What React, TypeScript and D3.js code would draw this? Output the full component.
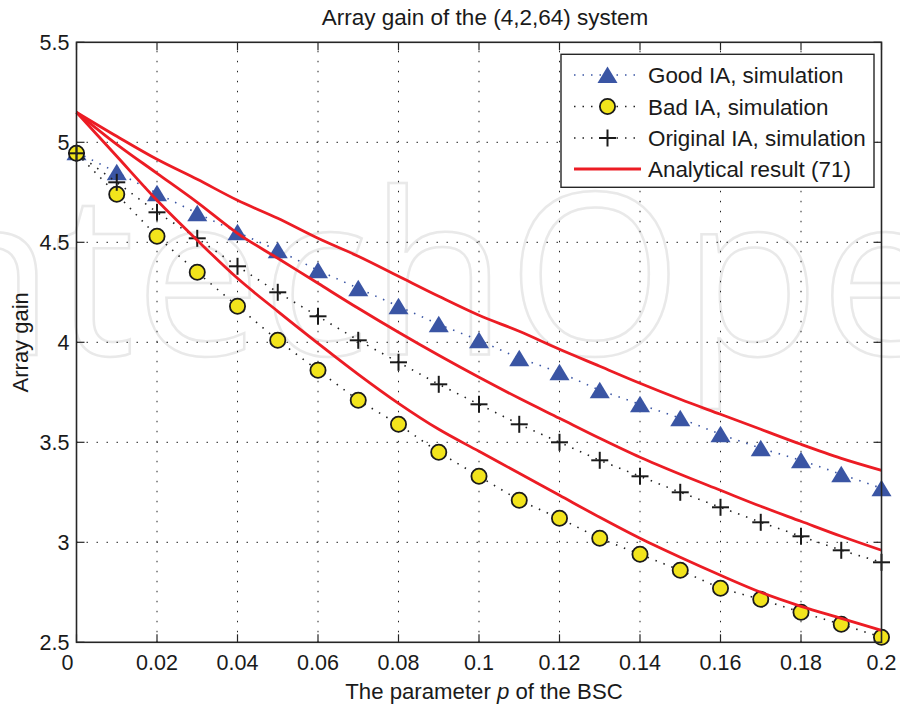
import React from "react";
import * as d3 from "d3";

// BSC crossover probability p
const pValues = [0, 0.01, 0.02, 0.03, 0.04, 0.05, 0.06, 0.07, 0.08, 0.09, 0.1, 0.11, 0.12, 0.13, 0.14, 0.15, 0.16, 0.17, 0.18, 0.19, 0.2];

// Simulated array gain
const goodSim = [4.95, 4.85, 4.745, 4.645, 4.55, 4.46, 4.36, 4.27, 4.18, 4.09, 4.01, 3.92, 3.85, 3.76, 3.69, 3.62, 3.54, 3.47, 3.41, 3.34, 3.27];
const badSim = [4.945, 4.74, 4.53, 4.35, 4.18, 4.01, 3.86, 3.71, 3.59, 3.45, 3.33, 3.21, 3.12, 3.02, 2.94, 2.86, 2.77, 2.715, 2.65, 2.59, 2.525];
const origSim = [4.945, 4.8, 4.65, 4.52, 4.38, 4.25, 4.13, 4.01, 3.9, 3.79, 3.69, 3.59, 3.5, 3.41, 3.33, 3.25, 3.175, 3.1, 3.03, 2.96, 2.9];

// Analytical result (71) for the three IA variants
const goodAna = [5.15, 5.03, 4.915, 4.815, 4.71, 4.62, 4.52, 4.43, 4.33, 4.23, 4.135, 4.055, 3.965, 3.88, 3.795, 3.715, 3.64, 3.565, 3.49, 3.42, 3.36];
const origAna = [5.15, 4.99, 4.845, 4.7, 4.545, 4.42, 4.295, 4.17, 4.05, 3.935, 3.825, 3.72, 3.62, 3.52, 3.425, 3.34, 3.26, 3.18, 3.105, 3.03, 2.96];
const badAna = [5.15, 4.93, 4.71, 4.51, 4.32, 4.155, 3.995, 3.84, 3.695, 3.565, 3.455, 3.345, 3.235, 3.125, 3.02, 2.925, 2.835, 2.75, 2.68, 2.62, 2.56];

const xTicks = [0, 0.02, 0.04, 0.06, 0.08, 0.1, 0.12, 0.14, 0.16, 0.18, 0.2];
const yTicks = [2.5, 3, 3.5, 4, 4.5, 5, 5.5];

const legendLabels = ["Good IA, simulation", "Bad IA, simulation", "Original IA, simulation", "Analytical result (71)"];

const W = 900;
const H = 710;
const left = 76.5;
const right = 881.5;
const top = 42.3;
const bottom = 642.3;

const FONT = "'Liberation Sans', Arial, Helvetica, sans-serif";
const BLUE = "#3a55a4";
const RED = "#ec1c24";
const YELLOW = "#f2e41c";
const AXIS = "#262626";

const x = d3.scaleLinear().domain([0, 0.2]).range([left, right]);
const y = d3.scaleLinear().domain([2.5, 5.5]).range([bottom, top]);

const line = d3
  .line<[number, number]>()
  .x((d) => x(d[0]))
  .y((d) => y(d[1]));

const smoothLine = d3
  .line<[number, number]>()
  .x((d) => x(d[0]))
  .y((d) => y(d[1]))
  .curve(d3.curveMonotoneX);

const pts = (vals: number[]) => pValues.map((p, i) => [p, vals[i]] as [number, number]);

const tri = (cx: number, cy: number) => `M${cx},${cy - 8.5} L${cx + 10},${cy + 8} L${cx - 10},${cy + 8} Z`;

function Plus({ cx, cy }: { cx: number; cy: number }) {
  return (
    <g stroke="#1a1a1a" strokeWidth={2}>
      <line x1={cx - 8.5} x2={cx + 8.5} y1={cy} y2={cy} />
      <line x1={cx} x2={cx} y1={cy - 8.5} y2={cy + 8.5} />
    </g>
  );
}

export default function App() {
  const legendRows = [75, 106.5, 138, 169];
  const lgX0 = 574;
  const lgX1 = 641;
  const lgMid = 607.5;

  return (
    <div style={{ position: "absolute", left: 0, top: 0 }}>
      <svg width={W} height={H} viewBox={`0 0 ${W} ${H}`} style={{ display: "block", background: "#fff" }}>
        {/* publisher watermark */}
        <text
          x={-146}
          y={355}
          fontFamily="'Open Sans', sans-serif"
          fontSize={225}
          fill="none"
          stroke="#e9e9e9"
          strokeWidth={2.5}
        >
          IntechOpen
        </text>

        {/* grid */}
        <g stroke="#222" strokeWidth={1} strokeDasharray="1.5,8.5">
          {xTicks.slice(1, -1).map((t) => (
            <line key={"gx" + t} x1={x(t)} x2={x(t)} y1={bottom} y2={top} />
          ))}
          {yTicks.slice(1, -1).map((t) => (
            <line key={"gy" + t} x1={left} x2={right} y1={y(t)} y2={y(t)} />
          ))}
        </g>

        {/* ticks on all four sides */}
        <g stroke={AXIS} strokeWidth={1.2}>
          {xTicks.map((t) => (
            <g key={"tx" + t}>
              <line x1={x(t)} x2={x(t)} y1={bottom} y2={bottom - 8} />
              <line x1={x(t)} x2={x(t)} y1={top} y2={top + 8} />
            </g>
          ))}
          {yTicks.map((t) => (
            <g key={"ty" + t}>
              <line x1={left} x2={left + 8} y1={y(t)} y2={y(t)} />
              <line x1={right} x2={right - 8} y1={y(t)} y2={y(t)} />
            </g>
          ))}
        </g>

        {/* Good IA simulation */}
        <path d={line(pts(goodSim)) || ""} fill="none" stroke={BLUE} strokeWidth={1.6} strokeDasharray="1.5,7" />
        {pValues.map((p, i) => (
          <path key={"g" + i} d={tri(x(p), y(goodSim[i]))} fill={BLUE} />
        ))}

        {/* Bad IA simulation */}
        <path d={line(pts(badSim)) || ""} fill="none" stroke="#222" strokeWidth={1.6} strokeDasharray="1.5,7" />
        {pValues.map((p, i) => (
          <circle key={"b" + i} cx={x(p)} cy={y(badSim[i])} r={7.6} fill={YELLOW} stroke="#1a1a1a" strokeWidth={1.8} />
        ))}

        {/* Original IA simulation */}
        <path d={line(pts(origSim)) || ""} fill="none" stroke="#222" strokeWidth={1.6} strokeDasharray="1.5,7" />
        {pValues.map((p, i) => (
          <Plus key={"o" + i} cx={x(p)} cy={y(origSim[i])} />
        ))}

        {/* Analytical result */}
        {[goodAna, origAna, badAna].map((vals, k) => (
          <path key={"a" + k} d={smoothLine(pts(vals)) || ""} fill="none" stroke={RED} strokeWidth={2.8} strokeLinejoin="round" />
        ))}

        {/* axes box */}
        <rect x={left} y={top} width={right - left} height={bottom - top} fill="none" stroke={AXIS} strokeWidth={1.6} />

        {/* tick labels */}
        <g fontFamily={FONT} fontSize={21.5} fill="#1a1a1a">
          {xTicks.map((t, i) => (
            <text key={"lx" + t} x={x(t) + (i === 0 ? -9 : 0)} y={670} textAnchor="middle">
              {d3.format("~g")(t)}
            </text>
          ))}
          {yTicks.map((t) => (
            <text key={"ly" + t} x={69.5} y={y(t) + 7.8} textAnchor="end">
              {d3.format("~g")(t)}
            </text>
          ))}
        </g>

        {/* titles */}
        <text x={(left + right) / 2 + 6} y={25} textAnchor="middle" fontFamily={FONT} fontSize={22.5} fill="#1a1a1a">
          Array gain of the (4,2,64) system
        </text>
        <text x={(left + right) / 2 + 5} y={699} textAnchor="middle" fontFamily={FONT} fontSize={22.2} fill="#1a1a1a">
          The parameter <tspan fontStyle="italic">p</tspan> of the BSC
        </text>
        <text
          transform={`translate(28,${(top + bottom) / 2}) rotate(-90)`}
          textAnchor="middle"
          fontFamily={FONT}
          fontSize={22}
          fill="#1a1a1a"
        >
          Array gain
        </text>

        {/* legend */}
        <rect x={561} y={54.3} width={313} height={133} fill="#fff" stroke={AXIS} strokeWidth={1.4} />
        <g>
          <line x1={lgX0} x2={lgX1} y1={legendRows[0]} y2={legendRows[0]} stroke={BLUE} strokeWidth={1.6} strokeDasharray="1.5,7" />
          <path d={tri(lgMid, legendRows[0])} fill={BLUE} />
          <line x1={lgX0} x2={lgX1} y1={legendRows[1]} y2={legendRows[1]} stroke="#222" strokeWidth={1.6} strokeDasharray="1.5,7" />
          <circle cx={lgMid} cy={legendRows[1]} r={7.6} fill={YELLOW} stroke="#1a1a1a" strokeWidth={1.8} />
          <line x1={lgX0} x2={lgX1} y1={legendRows[2]} y2={legendRows[2]} stroke="#222" strokeWidth={1.6} strokeDasharray="1.5,7" />
          <Plus cx={lgMid} cy={legendRows[2]} />
          <line x1={lgX0} x2={lgX1} y1={legendRows[3]} y2={legendRows[3]} stroke={RED} strokeWidth={2.8} />
        </g>
        <g fontFamily={FONT} fontSize={22.4} fill="#1a1a1a">
          {legendLabels.map((s, i) => (
            <text key={s} x={648} y={legendRows[i] + 8}>
              {s}
            </text>
          ))}
        </g>
      </svg>
    </div>
  );
}
